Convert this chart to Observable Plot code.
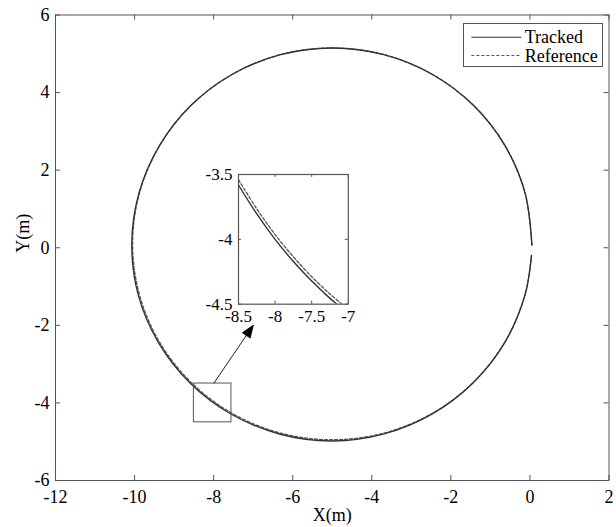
<!DOCTYPE html>
<html>
<head>
<meta charset="utf-8">
<script src="https://cdn.jsdelivr.net/npm/d3@7"></script>
<script src="https://cdn.jsdelivr.net/npm/@observablehq/plot@0.6"></script>
<style>
  body { margin: 0; background: #fff; }
  #wrap { position: relative; width: 616px; height: 527px; font-family: 'Liberation Serif', 'Times New Roman', serif; }
  #wrap > svg { position: absolute; left: 0; top: 0; }
  #legend { position: absolute; box-sizing: border-box; border: 1px solid #555; background: #fff; }
</style>
</head>
<body>
<div id="wrap"></div>
<script>
// ---- data ----
const seriesNames = ["Tracked", "Reference"];
const xTicks = [-12, -10, -8, -6, -4, -2, 0, 2];
const yTicks = [-6, -4, -2, 0, 2, 4, 6];

// Reference trajectory (dashed), points read around the circle
const refX = [0.05, -0.122, -0.627, -1.429, -2.475, -3.693, -5.0, -6.307, -7.525, -8.571, -9.373, -9.878, -10.05, -9.878, -9.373, -8.571, -7.525, -6.307, -5.0, -3.693, -2.475, -1.429, -0.627, -0.122, 0.04];
const refY = [0.07, 1.407, 2.625, 3.671, 4.473, 4.978, 5.15, 4.978, 4.473, 3.671, 2.625, 1.407, 0.10, -1.207, -2.425, -3.471, -4.273, -4.778, -4.95, -4.778, -4.273, -3.471, -2.425, -1.207, -0.20];

// Tracked trajectory (solid)
const trkX = [0.05, -0.122, -0.627, -1.429, -2.475, -3.693, -5.0, -6.307, -7.525, -8.571, -9.373, -9.888, -10.07, -9.907, -9.399, -8.592, -7.54, -6.315, -5.0, -3.688, -2.47, -1.429, -0.627, -0.122, 0.04];
const trkY = [0.07, 1.407, 2.625, 3.671, 4.473, 4.978, 5.15, 4.978, 4.473, 3.671, 2.625, 1.410, 0.10, -1.215, -2.44, -3.492, -4.299, -4.807, -4.98, -4.797, -4.282, -3.471, -2.425, -1.207, -0.20];

// Zoom box and arrow annotation
const boxX = [-8.5, -7.55];
const boxY = [-4.5, -3.5];
const arrowX = [-8.0, -7.0];
const arrowY = [-3.5, -2.0];

// Inset (zoomed view)
const insetXTicks = [-8.5, -8, -7.5, -7];
const insetYTicks = [-4.5, -4, -3.5];
const insetRefX = [-8.5, -8.25, -8.0, -7.75, -7.5, -7.25, -7.086];
const insetRefY = [-3.54, -3.765, -3.963, -4.135, -4.288, -4.421, -4.5];
const insetTrkX = [-8.5, -8.25, -8.0, -7.75, -7.5, -7.25, -7.155];
const insetTrkY = [-3.581, -3.804, -4.0, -4.171, -4.322, -4.455, -4.5];

// ---- drawing ----
const FONT = "'Liberation Serif', 'Times New Roman', serif";
const pts = (xs, ys) => xs.map((x, i) => ({x, y: ys[i]}));
const fmt = d => String(d);

const W = 616, H = 527, mL = 55, mR = 7.5, mT = 14.5, mB = 47;
const fw = W - mL - mR, fh = H - mT - mB;
const FRAME = "#555";
const solidStyle = {stroke: "#333", strokeWidth: 1.4};
const dashStyle = {stroke: "#555", strokeWidth: 1.3, strokeDasharray: "3,2"};

const headShape = {
  draw(ctx, l, r) {
    ctx.moveTo(0, -l);
    ctx.lineTo(-4.5, 0);
    ctx.lineTo(4.5, 0);
    ctx.closePath();
  }
};

const main = Plot.plot({
  width: W, height: H,
  marginLeft: mL, marginRight: mR, marginTop: mT, marginBottom: mB,
  x: {domain: [-12, 2]},
  y: {domain: [-6, 6]},
  style: {fontFamily: FONT, fontSize: "18px", color: "black", background: "white", overflow: "visible"},
  marks: [
    Plot.line(pts(refX, refY), {x: "x", y: "y", curve: "catmull-rom", ...dashStyle}),
    Plot.line(pts(trkX, trkY), {x: "x", y: "y", curve: "catmull-rom", ...solidStyle}),
    Plot.rect([{x1: boxX[0], x2: boxX[1], y1: boxY[0], y2: boxY[1]}], {x1: "x1", x2: "x2", y1: "y1", y2: "y2", fill: "none", stroke: FRAME, strokeWidth: 1}),
    Plot.link([{x1: arrowX[0], y1: arrowY[0], x2: arrowX[1], y2: arrowY[1]}], {x1: "x1", y1: "y1", x2: "x2", y2: "y2", stroke: "#222", strokeWidth: 1}),
    Plot.vector([{x: arrowX[1], y: arrowY[1]}], {x: "x", y: "y", anchor: "end", length: 12, rotate: 34.2, shape: headShape, fill: "black", stroke: "black", strokeWidth: 1}),
    Plot.frame({stroke: FRAME, strokeWidth: 1}),
    Plot.tickX(xTicks, {x: d => d, insetTop: fh - 5, stroke: FRAME}),
    Plot.tickX(xTicks, {x: d => d, insetBottom: fh - 5, stroke: FRAME}),
    Plot.tickY(yTicks, {y: d => d, insetRight: fw - 5, stroke: FRAME}),
    Plot.tickY(yTicks, {y: d => d, insetLeft: fw - 5, stroke: FRAME}),
    Plot.axisX(xTicks, {tickSize: 0, tickPadding: 9.5, tickFormat: fmt, label: null}),
    Plot.axisY(yTicks, {tickSize: 0, tickPadding: 6, tickFormat: fmt, label: null}),
    Plot.text(["X(m)"], {text: d => d, frameAnchor: "bottom", dy: 40}),
    Plot.text(["Y(m)"], {text: d => d, frameAnchor: "left", dx: -32, dy: 5, rotate: -90})
  ]
});

// Inset
const iL = 40, iR = 12, iT = 10, iB = 28;
const iw = 109.8, ih = 129.7;
const inset = Plot.plot({
  width: iL + iw + iR, height: iT + ih + iB,
  marginLeft: iL, marginRight: iR, marginTop: iT, marginBottom: iB,
  x: {domain: [-8.5, -7]},
  y: {domain: [-4.5, -3.5]},
  style: {fontFamily: FONT, fontSize: "17px", color: "black", background: "transparent", overflow: "visible"},
  marks: [
    Plot.frame({fill: "white"}),
    Plot.line(pts(insetRefX, insetRefY), {x: "x", y: "y", curve: "catmull-rom", clip: true, ...dashStyle}),
    Plot.line(pts(insetTrkX, insetTrkY), {x: "x", y: "y", curve: "catmull-rom", clip: true, ...solidStyle}),
    Plot.frame({stroke: FRAME, strokeWidth: 1.2}),
    Plot.tickX(insetXTicks, {x: d => d, insetTop: ih - 3, stroke: FRAME}),
    Plot.tickX(insetXTicks, {x: d => d, insetBottom: ih - 3, stroke: FRAME}),
    Plot.tickY(insetYTicks, {y: d => d, insetRight: iw - 3, stroke: FRAME}),
    Plot.tickY(insetYTicks, {y: d => d, insetLeft: iw - 3, stroke: FRAME}),
    Plot.axisX(insetXTicks, {tickSize: 0, tickPadding: 6, tickFormat: fmt, label: null}),
    Plot.axisY(insetYTicks, {tickSize: 0, tickPadding: 6, tickFormat: fmt, label: null})
  ]
});
inset.style.left = (237.7 - iL) + "px";
inset.style.top = (174.3 - iT) + "px";

const wrap = document.getElementById("wrap");
wrap.appendChild(main);
wrap.appendChild(inset);

// Legend (inside the plot, top-right)
const legend = document.createElement("div");
legend.id = "legend";
Object.assign(legend.style, {left: "463.3px", top: "22.7px", width: "139.4px", height: "44.3px"});
const ns = "http://www.w3.org/2000/svg";
const lsvg = document.createElementNS(ns, "svg");
lsvg.setAttribute("width", "138");
lsvg.setAttribute("height", "43");
lsvg.style.position = "absolute";
lsvg.style.left = "0"; lsvg.style.top = "0";
lsvg.style.overflow = "visible";
const styles = [solidStyle, dashStyle];
const rowY = [13.3, 31.5];
seriesNames.forEach((name, i) => {
  const ln = document.createElementNS(ns, "line");
  ln.setAttribute("x1", 7.4); ln.setAttribute("x2", 57.4);
  ln.setAttribute("y1", rowY[i]); ln.setAttribute("y2", rowY[i]);
  ln.setAttribute("stroke", styles[i].stroke);
  ln.setAttribute("stroke-width", 1.1);
  if (styles[i].strokeDasharray) ln.setAttribute("stroke-dasharray", styles[i].strokeDasharray);
  lsvg.appendChild(ln);
  const t = document.createElementNS(ns, "text");
  t.setAttribute("x", 60.7); t.setAttribute("y", rowY[i]);
  t.setAttribute("dominant-baseline", "central");
  t.setAttribute("font-family", FONT);
  t.setAttribute("font-size", "18px");
  t.setAttribute("fill", "black");
  t.textContent = name;
  lsvg.appendChild(t);
});
legend.appendChild(lsvg);
wrap.appendChild(legend);
</script>
</body>
</html>
